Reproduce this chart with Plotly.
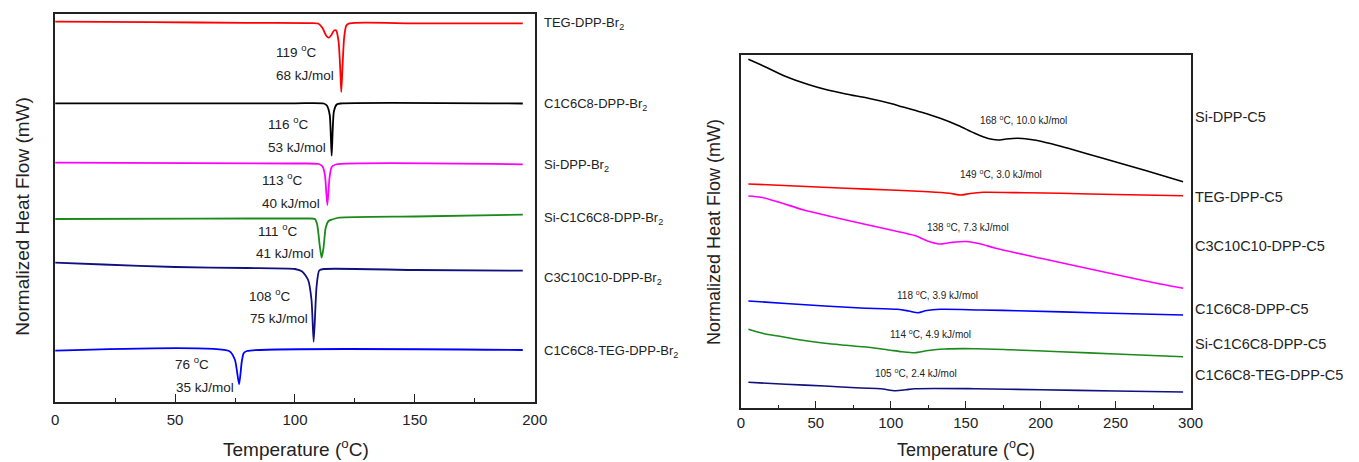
import plotly.graph_objects as go

# ---------------- Left panel: dibromide DSC traces ----------------
L_names = ["TEG-DPP-Br<sub>2</sub>", "C1C6C8-DPP-Br<sub>2</sub>", "Si-DPP-Br<sub>2</sub>",
           "Si-C1C6C8-DPP-Br<sub>2</sub>", "C3C10C10-DPP-Br<sub>2</sub>", "C1C6C8-TEG-DPP-Br<sub>2</sub>"]
L_colors = ["#ff0000", "#000000", "#ff00ff", "#1a8a1a", "#10107f", "#0000ff"]

red_T = [0, 40, 80, 105, 109.7, 111.5, 113, 114.1, 115.2, 116.3, 117.2, 118.2, 118.9, 119.3, 119.8, 120.5, 121.4, 122.7, 150, 195]
red_H = [-21.7, -22.2, -22.8, -23.2, -23.5, -28, -35.5, -37.7, -35, -30.5, -30.5, -42, -70, -92, -68, -38, -25.5, -23.3, -23.3, -23.3]

blk_T = [0, 100, 112, 113.3, 114.5, 115.3, 116.2, 117.4, 119, 195]
blk_H = [-103.3, -103.3, -103.5, -105.5, -115, -155.7, -112, -104.5, -103.5, -103.5]

mag_T = [0, 100, 110, 111.5, 112.5, 113.5, 114.4, 115.3, 117, 195]
mag_H = [-162.7, -163.5, -164, -166.5, -175, -205, -178, -167, -164.5, -164.3]

grn_T = [0, 60, 105, 108.3, 109.3, 110.3, 111.1, 111.9, 112.8, 114, 115.5, 118.5, 150, 195]
grn_H = [-219, -218.7, -218.5, -219, -225, -245, -257.7, -248, -228, -221, -219.5, -217.7, -216.5, -214.7]

nvy_T = [0, 20, 50, 80, 100, 103, 105.5, 106.9, 107.8, 109, 110.1, 112, 150, 195]
nvy_H = [-262.7, -264.5, -267, -268, -269, -271.5, -280, -300, -341.7, -286.7, -270.5, -269, -270, -270.7]

blu_T = [0, 72.7, 75, 76.7, 77.8, 78.6, 80, 195]
blu_H = [-350.7, -351.2, -360, -384.3, -362, -353.3, -351, -350]

L_T = [red_T, blk_T, mag_T, grn_T, nvy_T, blu_T]
L_H = [red_H, blk_H, mag_H, grn_H, nvy_H, blu_H]
L_label_y = [-24, -105, -165.7, -218.3, -278.3, -351.7]

L_ann_text = ["119 <sup>o</sup>C", "68 kJ/mol", "116 <sup>o</sup>C", "53 kJ/mol", "113 <sup>o</sup>C", "40 kJ/mol",
              "111 <sup>o</sup>C", "41 kJ/mol", "108 <sup>o</sup>C", "75 kJ/mol", "76 <sup>o</sup>C", "35 kJ/mol"]
L_ann_x = [100.6, 104.3, 97.5, 101, 94.8, 98.5, 92.8, 96, 89.5, 93.2, 57, 62.3]
L_ann_y = [-50.7, -75.3, -122.7, -147, -179, -203, -230, -253, -295, -318, -362.7, -387.7]

# ---------------- Right panel: C5 DSC traces ----------------
R_names = ["Si-DPP-C5", "TEG-DPP-C5", "C3C10C10-DPP-C5", "C1C6C8-DPP-C5", "Si-C1C6C8-DPP-C5", "C1C6C8-TEG-DPP-C5"]
R_colors = ["#000000", "#ff0000", "#ff00ff", "#0000ff", "#1a8a1a", "#10107f"]

r1_T = [5, 15, 30, 45, 56, 70, 85, 100, 107.5, 120, 133, 145, 156, 165, 171.5, 177, 184.5, 192, 201.5, 220, 241.5, 270, 295]
r1_H = [-59.3, -66, -76.5, -84.5, -89.3, -94, -98.3, -103.5, -106.7, -112, -118.3, -125.5, -133.3, -138.5, -140, -139, -138.3, -139.3, -141.7, -149, -158.3, -170.5, -181.7]

r2_T = [5, 40, 70, 100, 125, 139, 147, 153, 161.5, 190, 213, 250, 295]
r2_H = [-184, -186.2, -188.3, -190, -191.8, -193.3, -195, -193.5, -192.3, -192.8, -193.3, -194.5, -195.7]

r3_T = [5, 13.5, 25, 42, 60, 85, 100, 116, 124.5, 132.5, 140, 150, 160, 170, 200, 241.5, 270, 295]
r3_H = [-196, -197.3, -202, -210, -216.5, -225, -230, -235.5, -241, -244, -242.5, -241.5, -244, -248.3, -258.3, -271.7, -281, -288.3]

r4_T = [5, 30, 56, 80, 104.5, 112, 118.3, 124, 133, 160, 184.5, 240, 295]
r4_H = [-301, -303.5, -306, -308, -309.3, -311, -312.7, -310.5, -309.3, -310, -310.7, -313, -315]

r5_T = [5, 15, 27.7, 40, 56, 70, 85, 100, 107.5, 116, 125, 136, 156, 180, 213, 250, 295]
r5_H = [-329.3, -333.5, -336.7, -340, -343.3, -345.3, -347.3, -350.3, -351.7, -352.7, -350.5, -349, -348.7, -349.8, -351.7, -354, -356.7]

r6_T = [5, 30, 56, 80, 93.3, 103, 110, 116, 156, 200, 250, 295]
r6_H = [-382.3, -384.2, -386, -388, -388.7, -390.7, -389.8, -388.7, -388.7, -389.8, -391, -392]

R_T = [r1_T, r2_T, r3_T, r4_T, r5_T, r6_T]
R_H = [r1_H, r2_H, r3_H, r4_H, r5_H, r6_H]
R_label_y = [-116.7, -197.3, -246, -309, -344.3, -375]

R_ann_text = ["168 <sup>o</sup>C, 10.0 kJ/mol", "149 <sup>o</sup>C, 3.0 kJ/mol", "138 <sup>o</sup>C, 7.3 kJ/mol",
              "118 <sup>o</sup>C, 3.9 kJ/mol", "114 <sup>o</sup>C, 4.9 kJ/mol", "105 <sup>o</sup>C, 2.4 kJ/mol"]
R_ann_x = [188.3, 173.5, 151.7, 131, 126.4, 116.8]
R_ann_y = [-120, -174, -226.7, -295, -334.3, -372.7]

FONT = "Arial, Liberation Sans, sans-serif"
W, H = 1359, 462


def px(x):
    return x / W


def py(y):
    return 1 - y / H


fig = go.Figure()
for T, Hf, c, n in zip(L_T, L_H, L_colors, L_names):
    fig.add_trace(go.Scatter(x=T, y=Hf, mode="lines", name=n, xaxis="x", yaxis="y",
                             line=dict(color=c, width=1.8, shape="spline", smoothing=0.6),
                             showlegend=False))
for T, Hf, c, n in zip(R_T, R_H, R_colors, R_names):
    fig.add_trace(go.Scatter(x=T, y=Hf, mode="lines", name=n, xaxis="x2", yaxis="y2",
                             line=dict(color=c, width=1.6, shape="spline", smoothing=0.8),
                             showlegend=False))

ann = []
for t, x, y in zip(L_ann_text, L_ann_x, L_ann_y):
    ann.append(dict(text=t, x=x, y=y, xref="x", yref="y", showarrow=False, xanchor="center", yanchor="middle",
                    font=dict(size=13.5, color="#222", family=FONT)))
for n, y in zip(L_names, L_label_y):
    ann.append(dict(text=n, x=px(545), y=y, xref="paper", yref="y", xanchor="left", yanchor="middle",
                    showarrow=False, font=dict(size=13, color="#222", family=FONT)))
for t, x, y in zip(R_ann_text, R_ann_x, R_ann_y):
    ann.append(dict(text=t, x=x, y=y, xref="x2", yref="y2", showarrow=False, xanchor="center", yanchor="middle",
                    font=dict(size=10, color="#222", family=FONT)))
for n, y in zip(R_names, R_label_y):
    ann.append(dict(text=n, x=px(1204), y=y, xref="paper", yref="y2", xanchor="left", yanchor="middle",
                    showarrow=False, font=dict(size=14.5, color="#222", family=FONT)))

# axis titles
ann.append(dict(text="Temperature (<sup>o</sup>C)", x=px(296), y=py(448), xref="paper", yref="paper",
                xanchor="center", yanchor="middle", showarrow=False,
                font=dict(size=19, color="#222", family=FONT)))
ann.append(dict(text="Normalized Heat Flow (mW)", x=px(19), y=py(216), xref="paper", yref="paper",
                xanchor="center", yanchor="middle", textangle=-90, showarrow=False,
                font=dict(size=19, color="#222", family=FONT)))
ann.append(dict(text="Temperature (<sup>o</sup>C)", x=px(974), y=py(448), xref="paper", yref="paper",
                xanchor="center", yanchor="middle", showarrow=False,
                font=dict(size=18, color="#222", family=FONT)))
ann.append(dict(text="Normalized Heat Flow (mW)", x=px(719), y=py(232), xref="paper", yref="paper",
                xanchor="center", yanchor="middle", textangle=-90, showarrow=False,
                font=dict(size=18, color="#222", family=FONT)))


def xaxis_style(standoff):
    return dict(showline=True, linecolor="#222", linewidth=1.5, mirror=True, ticks="inside", ticklen=8,
                tickwidth=1.2, tickcolor="#222", showgrid=False, zeroline=False,
                ticklabelstandoff=standoff,
                tickfont=dict(size=15, color="#222", family=FONT),
                minor=dict(ticks="inside", ticklen=4, tickwidth=1.2, tickcolor="#222", dtick=25, showgrid=False))


ycommon = dict(showline=True, linecolor="#222", linewidth=1.5, mirror=True, ticks="", showticklabels=False,
               showgrid=False, zeroline=False)

fig.update_layout(
    width=W, height=H, margin=dict(l=0, r=0, t=0, b=0),
    paper_bgcolor="white", plot_bgcolor="white",
    xaxis=dict(domain=[px(51.8), px(537.5)], range=[0, 200], dtick=50, anchor="y", **xaxis_style(4)),
    yaxis=dict(domain=[py(401.7), py(14)], range=[-401.7, -14], anchor="x", **ycommon),
    xaxis2=dict(domain=[px(746.2), px(1201.6)], range=[0, 300], dtick=50, anchor="y2", **xaxis_style(0)),
    yaxis2=dict(domain=[py(408.3), py(55)], range=[-408.3, -55], anchor="x2", **ycommon),
    annotations=ann,
)

# remove the browser's default 8 px page margin so the figure fills the window exactly
fig.write_html("out.html", config={"displayModeBar": False},
               post_script="document.body.style.margin='0px';document.body.style.overflow='hidden';")
